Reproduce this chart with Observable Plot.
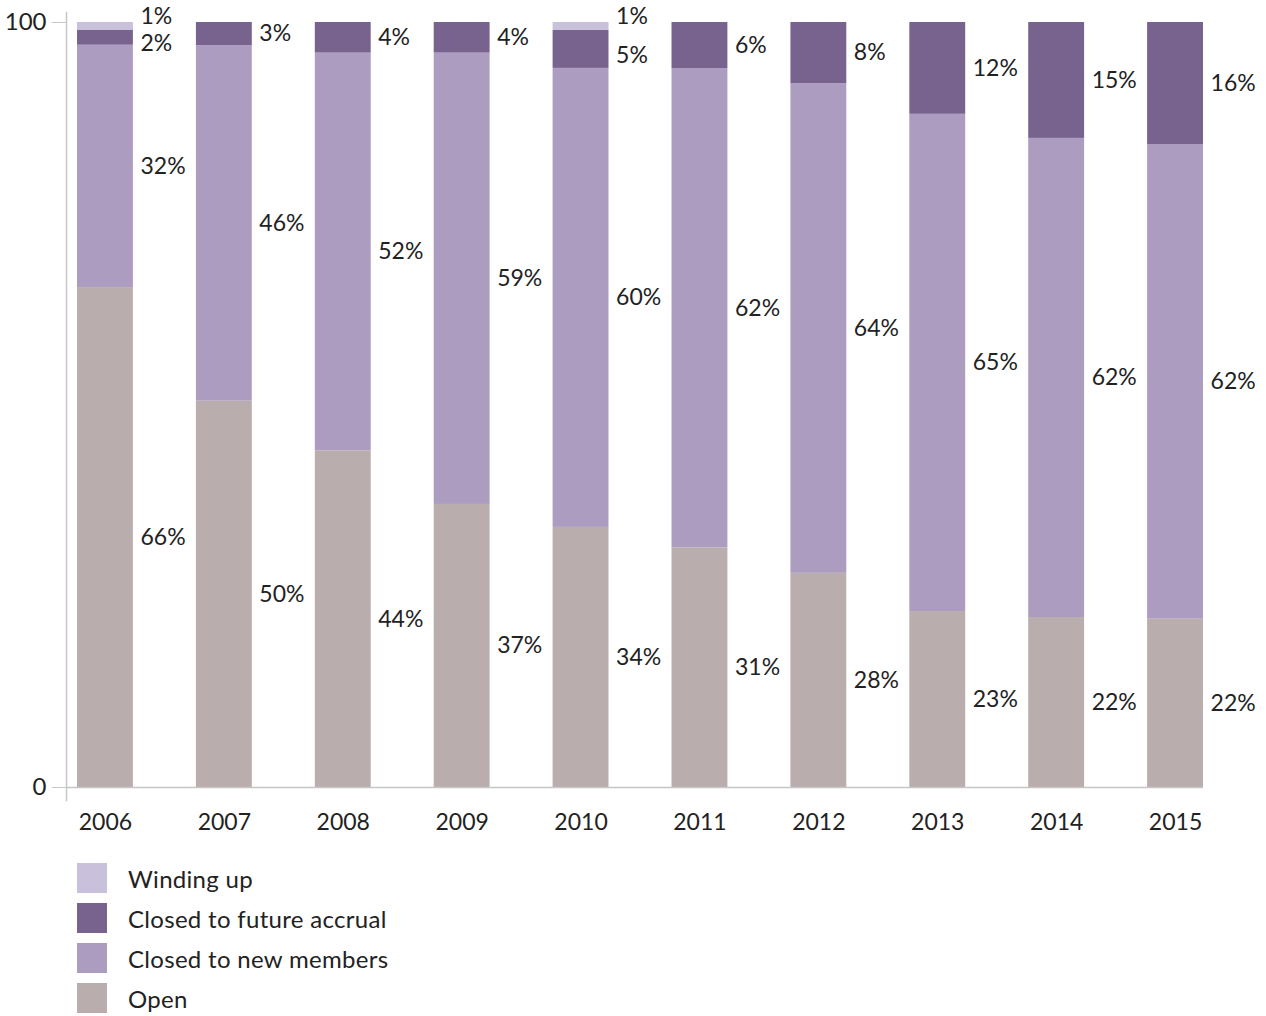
<!DOCTYPE html>
<html>
<head>
<meta charset="utf-8">
<script src="https://cdn.jsdelivr.net/npm/d3@7"></script>
<script src="https://cdn.jsdelivr.net/npm/@observablehq/plot@0.6"></script>
<style>
  html, body { margin: 0; padding: 0; background: #fff; }
  body { font-family: Lato, "Noto Sans", sans-serif; color: #222; width: 1266px; }
  #chart svg { display: block; }
  .legend { padding-left: 77px; padding-top: 13px; }
  .legend .row { display: flex; align-items: center; height: 30px; margin-bottom: 10px; }
  .legend .sw { width: 30px; height: 30px; margin-right: 21px; }
  .legend .lab { font-size: 24px; font-weight: 400; color: #222; letter-spacing: 0.3px; }
</style>
</head>
<body>
<div id="chart"></div>
<div class="legend" id="legend"></div>
<script>
const years = ["2006","2007","2008","2009","2010","2011","2012","2013","2014","2015"];
const openVals = [66, 50, 44, 37, 34, 31, 28, 23, 22, 22];
const closedNewVals = [32, 46, 52, 59, 60, 62, 64, 65, 62, 62];
const closedAccrualVals = [2, 3, 4, 4, 5, 6, 8, 12, 15, 16];
const windingUpVals = [1, 0, 0, 0, 1, 0, 0, 0, 0, 0];
const categories = ["Open", "Closed to new members", "Closed to future accrual", "Winding up"];
const colors = ["#baadad", "#ac9cc0", "#78638f", "#c9c0dc"];
const legendOrder = ["Winding up", "Closed to future accrual", "Closed to new members", "Open"];

const series = [openVals, closedNewVals, closedAccrualVals, windingUpVals];
const rows = [];
years.forEach((year, i) => {
  categories.forEach((cat, j) => {
    rows.push({year, category: cat, value: series[j][i], hasWinding: windingUpVals[i] > 0});
  });
});

const labelOf = (d) => d.value > 0 ? d.value + "%" : null;
const isWU = d => d.category === "Winding up";
const isShifted = d => d.category === "Closed to future accrual" && d.hasWinding;

const textOpts = {textAnchor: "start", dx: 35, fontSize: 23, fontWeight: 400, fill: "#222"};
const stackOpts = {x: "year", y: "value", z: "category", offset: "normalize"};

const plot = Plot.plot({
  width: 1266,
  height: 850,
  marginTop: 22,
  marginBottom: 63,
  marginLeft: 66,
  marginRight: 63,
  style: {fontFamily: "Lato, 'Noto Sans', sans-serif", fontSize: "23px", color: "#222", background: "#fff"},
  x: {domain: years, paddingInner: 0.53, paddingOuter: 0.0463, align: 1, round: false, label: null},
  y: {percent: true, domain: [0, 100], label: null},
  color: {domain: categories, range: colors},
  marks: [
    Plot.barY(rows, {x: "year", y: "value", z: "category", fill: "category", offset: "normalize"}),
    Plot.text(rows, Plot.stackY({...stackOpts, ...textOpts,
      text: d => (!isWU(d) && !isShifted(d)) ? labelOf(d) : null})),
    Plot.text(rows, Plot.stackY({...stackOpts, ...textOpts, dy: 6,
      text: d => isShifted(d) ? labelOf(d) : null})),
    Plot.text(rows, Plot.stackY({...stackOpts, ...textOpts, dy: -10,
      text: d => isWU(d) ? labelOf(d) : null})),
    Plot.frame({anchor: "left", stroke: "#c6c6c6", strokeWidth: 1.5, insetTop: -10, insetBottom: -13}),
    Plot.ruleY([0], {stroke: "#c6c6c6", strokeWidth: 1.5}),
    Plot.axisY({ticks: [0, 100], tickSize: 14, tickPadding: 6, stroke: "#c6c6c6", fill: "#222", fontSize: 24, fontWeight: 400, label: null}),
    Plot.axisX({tickSize: 0, tickPadding: 26, fill: "#222", fontSize: 23, fontWeight: 400, label: null})
  ]
});
document.getElementById("chart").appendChild(plot);

const legend = document.getElementById("legend");
legendOrder.forEach(cat => {
  const row = document.createElement("div");
  row.className = "row";
  const sw = document.createElement("div");
  sw.className = "sw";
  sw.style.background = colors[categories.indexOf(cat)];
  const lab = document.createElement("span");
  lab.className = "lab";
  lab.textContent = cat;
  row.appendChild(sw);
  row.appendChild(lab);
  legend.appendChild(row);
});
</script>
</body>
</html>
